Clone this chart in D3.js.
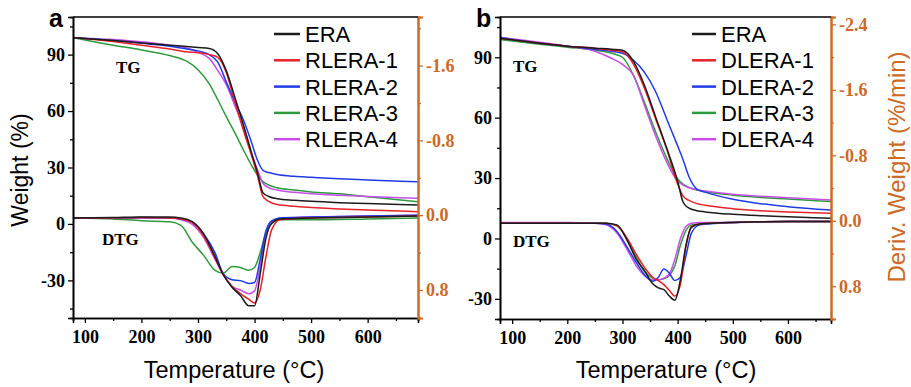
<!DOCTYPE html>
<html><head><meta charset="utf-8">
<script src="https://cdn.jsdelivr.net/npm/d3@7"></script>
<style>
html,body{margin:0;padding:0;background:#fff;}
svg{display:block;}
</style></head>
<body>
<svg id="chart" width="911" height="387"></svg>
<script>
// ---------- DATA ----------
const seriesColors = ["#1c1c1c", "#e8222a", "#1f3be6", "#2e9a3e", "#c64ee8"];
const legendA = ["ERA", "RLERA-1", "RLERA-2", "RLERA-3", "RLERA-4"];
const legendB = ["ERA", "DLERA-1", "DLERA-2", "DLERA-3", "DLERA-4"];

const xTicks = [100, 200, 300, 400, 500, 600];
const xMinorTicks = [150, 250, 350, 450, 550, 650];
const leftTicks = [90, 60, 30, 0, -30];
const leftMinorA = [105, 75, 45, 15, -15, -45];
const leftMinorB = [105, 75, 45, 15, -15];
const rightTicksA = [-1.6, -0.8, 0.0, 0.8];
const rightTickLabelsA = ["-1.6", "-0.8", "0.0", "0.8"];
const rightTicksB = [-2.4, -1.6, -0.8, 0.0, 0.8];
const rightTickLabelsB = ["-2.4", "-1.6", "-0.8", "0.0", "0.8"];
const rightMinor = [-2.0, -1.2, -0.4, 0.4];

// Panel a — TG (weight %, left axis)
const tgTempA = [80, 150, 200, 250, 280, 300, 320, 335, 350, 365, 380, 395, 405, 415, 425, 440, 470, 500, 550, 600, 690];
const tgEraA  = [99, 97.5, 96.2, 95, 94.3, 93.8, 93.3, 90.5, 81.5, 67.5, 53, 37.5, 27.5, 16.5, 14.6, 13.4, 12.6, 12, 11.3, 10.8, 10];
const tgR1    = [99, 97, 95, 93, 91.5, 91, 90, 88.5, 80.5, 65, 50, 36, 26, 14.5, 12, 10.3, 9.4, 8.8, 8, 7.4, 6.5];
const tgR2    = [99, 97.5, 96, 94.5, 93, 92, 90, 86, 75.5, 65, 55.5, 43, 34, 28.5, 27.3, 26.3, 25.3, 24.8, 24, 23.4, 22.4];
const tgR3    = [99, 95, 92.5, 89.5, 86.5, 82, 74.5, 66, 57, 48.5, 39.5, 31, 26, 22.5, 20.7, 19.2, 18, 17, 16, 14.5, 11.8];
const tgR4    = [99, 98, 96.8, 95, 93.5, 91.2, 88, 81.5, 74, 63, 51.5, 37, 29, 21.5, 19.3, 18, 16.8, 16, 15.2, 14.6, 13.6];

// Panel a — DTG (%/min, right axis)
const dtgTempA = [80, 150, 200, 250, 270, 290, 310, 330, 345, 360, 375, 390, 400, 410, 420, 430, 445, 500, 600, 690];
const dtgEraA  = [0.03, 0.025, 0.02, 0.02, 0.03, 0.07, 0.2, 0.44, 0.64, 0.77, 0.86, 0.97, 0.97, 0.63, 0.25, 0.09, 0.04, 0.03, 0.02, 0.01];
const dtgR1    = [0.03, 0.03, 0.025, 0.03, 0.04, 0.08, 0.22, 0.46, 0.64, 0.76, 0.84, 0.9, 0.94, 0.8, 0.45, 0.16, 0.05, 0.03, 0.02, 0.01];
const dtgR2    = [0.03, 0.03, 0.025, 0.03, 0.04, 0.08, 0.2, 0.4, 0.63, 0.69, 0.7, 0.73, 0.72, 0.47, 0.17, 0.06, 0.03, 0.02, 0.01, 0.0];
const dtgR3    = [0.03, 0.04, 0.06, 0.07, 0.11, 0.29, 0.43, 0.59, 0.62, 0.55, 0.56, 0.59, 0.56, 0.4, 0.19, 0.09, 0.05, 0.05, 0.04, 0.03];
const dtgR4    = [0.03, 0.03, 0.03, 0.03, 0.05, 0.1, 0.24, 0.47, 0.64, 0.76, 0.8, 0.84, 0.81, 0.55, 0.19, 0.07, 0.03, 0.02, 0.01, 0.0];

// Panel b — TG
const tgTempB = [78, 150, 200, 250, 280, 300, 320, 340, 360, 380, 400, 410, 420, 435, 450, 500, 550, 600, 678];
const tgEraB  = [99.5, 97, 95.5, 94.5, 94, 93.5, 88, 76, 60.5, 45, 28.5, 18, 15.2, 13.8, 13.2, 12, 11.3, 10.8, 10];
const tgD1    = [99.5, 97, 95.5, 94.5, 93.5, 92.7, 86.5, 74.5, 59.5, 44.5, 27, 21, 19, 17.3, 16.5, 14.8, 13.8, 13.2, 12.5];
const tgD2    = [99.8, 97, 95.5, 94, 93, 92, 88.5, 82.5, 73, 59.5, 46, 39, 31, 24.5, 23, 19.5, 17.3, 15.8, 14.1];
const tgD3    = [98.8, 96.5, 95, 93.5, 92, 90, 81, 67.5, 53, 40, 29.5, 27, 25.5, 24, 23.2, 21.5, 20.4, 19.6, 18.3];
const tgD4    = [99.8, 97.5, 95.5, 93, 89.5, 86.5, 81, 66, 51, 38, 28.5, 26.5, 25.3, 24.2, 23.6, 22, 21, 20.2, 19.1];

// Panel b — DTG
const dtgTempB = [78, 150, 200, 250, 270, 290, 310, 325, 340, 355, 365, 375, 385, 395, 405, 415, 425, 440, 500, 600, 678];
const dtgEraB  = [0.03, 0.03, 0.03, 0.03, 0.03, 0.05, 0.26, 0.47, 0.61, 0.77, 0.82, 0.84, 0.92, 0.97, 0.72, 0.3, 0.08, 0.04, 0.02, 0.01, 0.01];
const dtgD1    = [0.03, 0.03, 0.03, 0.03, 0.03, 0.06, 0.23, 0.41, 0.57, 0.69, 0.73, 0.78, 0.85, 0.92, 0.78, 0.32, 0.07, 0.04, 0.02, 0.01, 0.01];
const dtgD2    = [0.03, 0.03, 0.03, 0.03, 0.04, 0.13, 0.34, 0.51, 0.66, 0.74, 0.69, 0.59, 0.64, 0.73, 0.69, 0.43, 0.15, 0.05, 0.02, 0.01, 0.01];
const dtgD3    = [0.03, 0.03, 0.03, 0.03, 0.03, 0.06, 0.24, 0.44, 0.62, 0.7, 0.72, 0.71, 0.67, 0.55, 0.3, 0.12, 0.05, 0.04, 0.02, 0.01, 0.01];
const dtgD4    = [0.02, 0.02, 0.02, 0.03, 0.05, 0.15, 0.37, 0.55, 0.67, 0.72, 0.72, 0.7, 0.65, 0.47, 0.22, 0.07, 0.03, 0.02, 0.02, 0.01, 0.01];

// ---------- DRAW ----------
const ORANGE = "#cc6a26";
const svg = d3.select("#chart");
const serifBold = "'Liberation Serif','Times New Roman',serif";
const sans = "'Liberation Sans',Arial,Helvetica,sans-serif";

function drawPanel(cfg) {
  const x = d3.scaleLinear().domain(cfg.xDomain).range([cfg.left, cfg.right]);
  const yL = d3.scaleLinear().domain(cfg.leftDomain).range([cfg.bottom, cfg.top]);
  const yR = d3.scaleLinear().domain(cfg.rightDomain).range([cfg.top, cfg.bottom]);
  const g = svg.append("g");

  const clipId = "clip" + cfg.name;
  svg.append("clipPath").attr("id", clipId).append("rect")
    .attr("x", cfg.left).attr("y", cfg.top)
    .attr("width", cfg.right - cfg.left).attr("height", cfg.bottom - cfg.top);

  const plot = g.append("g").attr("clip-path", `url(#${clipId})`);
  const lineL = d3.line().x(d => x(d[0])).y(d => yL(d[1])).curve(d3.curveMonotoneX);
  const lineR = d3.line().x(d => x(d[0])).y(d => yR(d[1])).curve(d3.curveMonotoneX);

  const order = [3, 4, 2, 1, 0];
  order.forEach(i => {
    plot.append("path").datum(d3.zip(cfg.dtgTemp, cfg.dtg[i]))
      .attr("d", lineR).attr("fill", "none").attr("stroke", seriesColors[i]).attr("stroke-width", 1.5);
    plot.append("path").datum(d3.zip(cfg.tgTemp, cfg.tg[i]))
      .attr("d", lineL).attr("fill", "none").attr("stroke", seriesColors[i]).attr("stroke-width", 1.5);
  });

  const axB = d3.axisBottom(x).tickValues(cfg.xTicks).tickSize(5).tickFormat(d3.format("d"));
  const axBm = d3.axisBottom(x).tickValues(cfg.xMinor).tickSize(3).tickFormat("");
  const axL = d3.axisLeft(yL).tickValues(cfg.leftTicks).tickSize(5).tickFormat(d => d < 0 ? "-" + Math.abs(d) : String(d));
  const axLm = d3.axisLeft(yL).tickValues(cfg.leftMinor).tickSize(3).tickFormat("");
  const axR = d3.axisRight(yR).tickValues(cfg.rightTicks).tickSize(5)
    .tickFormat((d, i) => cfg.rightLabels[i]);
  const axRm = d3.axisRight(yR).tickValues(rightMinor).tickSize(3).tickFormat("");

  const gb = g.append("g").attr("transform", `translate(0,${cfg.bottom})`).call(axB);
  g.append("g").attr("transform", `translate(0,${cfg.bottom})`).call(axBm);
  const gl = g.append("g").attr("transform", `translate(${cfg.left},0)`).call(axL);
  g.append("g").attr("transform", `translate(${cfg.left},0)`).call(axLm);
  const gr = g.append("g").attr("transform", `translate(${cfg.right},0)`).call(axR);
  const grm = g.append("g").attr("transform", `translate(${cfg.right},0)`).call(axRm);

  [gb, gl].forEach(a => {
    a.selectAll("text").attr("font-family", serifBold).attr("font-weight", "bold").attr("font-size", 18).attr("fill", "#000");
  });
  gb.selectAll("text").attr("dy", "0.95em");
  g.selectAll(".domain").attr("stroke", "#000").attr("stroke-width", 1.6);
  g.selectAll(".tick line").attr("stroke", "#000").attr("stroke-width", 1.3);
  gr.selectAll("text").attr("font-family", serifBold).attr("font-weight", "bold").attr("font-size", 18).attr("fill", ORANGE);
  [gr, grm].forEach(a => {
    a.select(".domain").attr("stroke", ORANGE).attr("stroke-width", 2);
    a.selectAll(".tick line").attr("stroke", ORANGE);
  });
  g.append("line").attr("x1", cfg.left).attr("x2", cfg.right).attr("y1", cfg.top).attr("y2", cfg.top)
    .attr("stroke", "#000").attr("stroke-width", 1.6);

  const lg = g.append("g");
  cfg.legend.forEach((name, i) => {
    const yb = cfg.legendY + i * 26.3;
    lg.append("line").attr("x1", cfg.legendX).attr("x2", cfg.legendX + cfg.legendLen)
      .attr("y1", yb - 8).attr("y2", yb - 8).attr("stroke", seriesColors[i]).attr("stroke-width", 2.5);
    lg.append("text").attr("x", cfg.legendX + cfg.legendLen + 5).attr("y", yb)
      .attr("font-family", sans).attr("font-size", 22).attr("fill", "#000").text(name);
  });

  g.append("text").attr("x", cfg.tgX).attr("y", cfg.tgY).attr("font-family", serifBold)
    .attr("font-weight", "bold").attr("font-size", 17).text("TG");
  g.append("text").attr("x", cfg.dtgX).attr("y", cfg.dtgY).attr("font-family", serifBold)
    .attr("font-weight", "bold").attr("font-size", 17).text("DTG");
  g.append("text").attr("x", cfg.letterX).attr("y", 27).attr("font-family", sans)
    .attr("font-weight", "bold").attr("font-size", 25).text(cfg.letter);
  g.append("text").attr("x", cfg.xTitleX).attr("y", 378).attr("text-anchor", "middle")
    .attr("font-family", sans).attr("font-size", 23.5).text("Temperature (°C)");
}

drawPanel({
  name: "A", letter: "a", letterX: 49,
  left: 73, right: 418, top: 17, bottom: 318,
  xDomain: [79, 689], leftDomain: [-50, 110], rightDomain: [-2.12, 1.10],
  xTicks: xTicks, xMinor: xMinorTicks, leftTicks: leftTicks, leftMinor: leftMinorA,
  rightTicks: rightTicksA, rightLabels: rightTickLabelsA,
  tgTemp: tgTempA, tg: [tgEraA, tgR1, tgR2, tgR3, tgR4],
  dtgTemp: dtgTempA, dtg: [dtgEraA, dtgR1, dtgR2, dtgR3, dtgR4],
  legend: legendA, legendX: 274, legendLen: 26, legendY: 42,
  tgX: 116, tgY: 73, dtgX: 102, dtgY: 245, xTitleX: 234
});

drawPanel({
  name: "B", letter: "b", letterX: 476,
  left: 500, right: 831, top: 17, bottom: 319,
  xDomain: [78, 678], leftDomain: [-40, 110], rightDomain: [-2.49, 1.2],
  xTicks: xTicks, xMinor: xMinorTicks, leftTicks: leftTicks, leftMinor: leftMinorB,
  rightTicks: rightTicksB, rightLabels: rightTickLabelsB,
  tgTemp: tgTempB, tg: [tgEraB, tgD1, tgD2, tgD3, tgD4],
  dtgTemp: dtgTempB, dtg: [dtgEraB, dtgD1, dtgD2, dtgD3, dtgD4],
  legend: legendB, legendX: 692, legendLen: 24, legendY: 42,
  tgX: 513, tgY: 72, dtgX: 513, dtgY: 247, xTitleX: 666
});

svg.append("text").attr("transform", "translate(28,170) rotate(-90)").attr("text-anchor", "middle")
  .attr("font-family", sans).attr("font-size", 23).text("Weight (%)");
svg.append("text").attr("transform", "translate(905,167) rotate(-90)").attr("text-anchor", "middle")
  .attr("font-family", sans).attr("font-size", 24).attr("fill", ORANGE).text("Deriv. Weight (%/min)");
</script>
</body></html>
